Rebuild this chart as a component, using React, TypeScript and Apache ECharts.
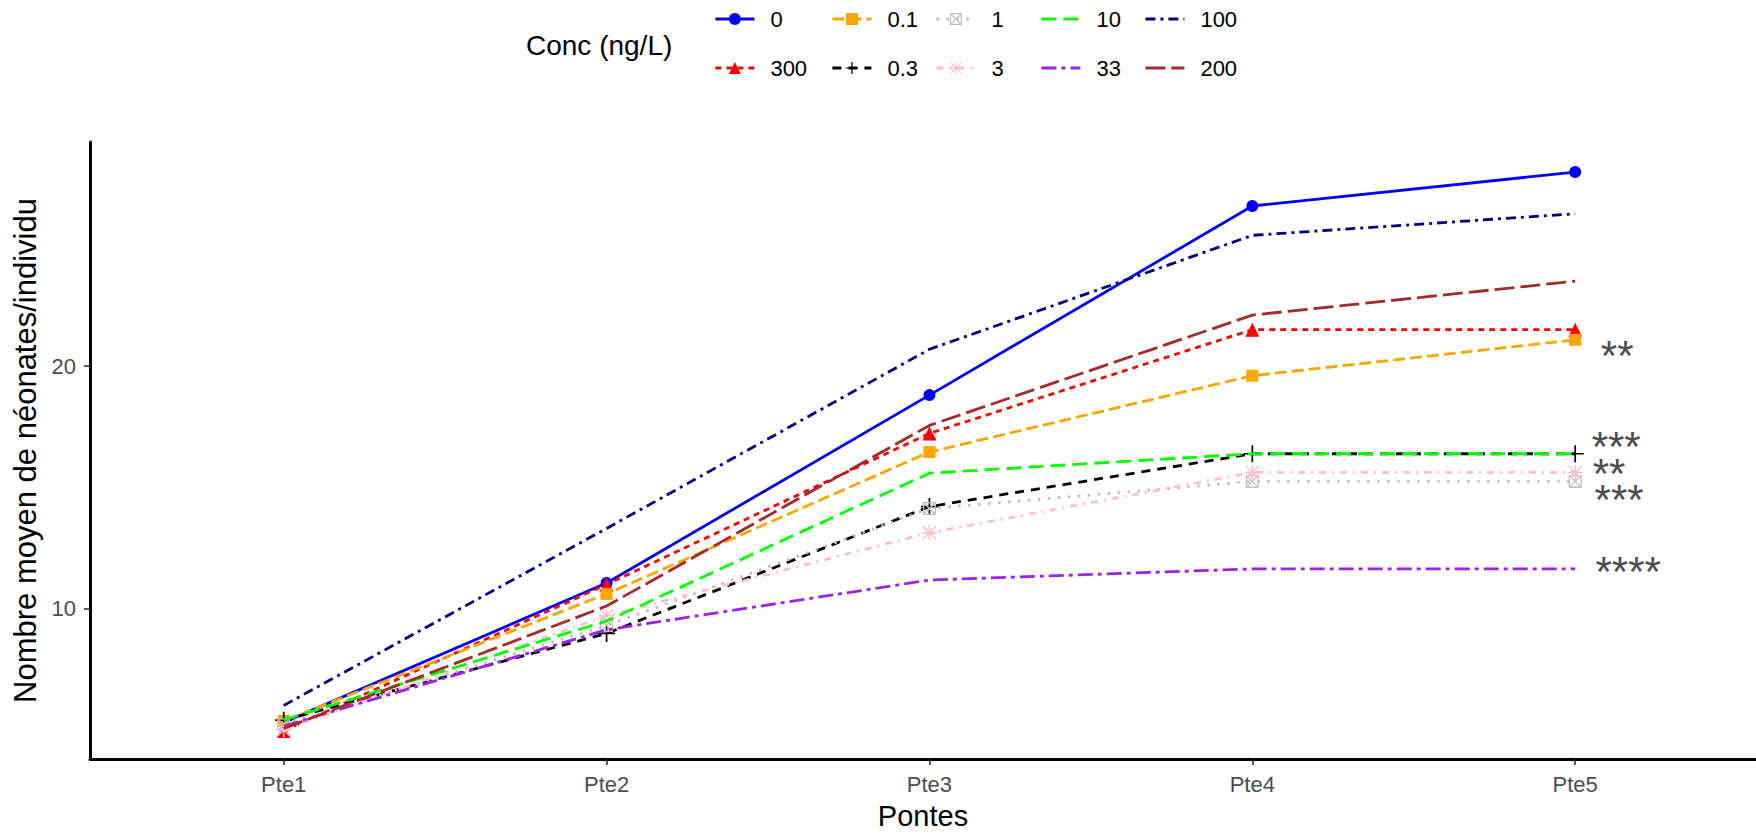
import React, { useEffect, useRef } from 'react';
import * as echarts from 'echarts';

// Brood number (x axis)
const categories = ['Pte1', 'Pte2', 'Pte3', 'Pte4', 'Pte5'];

// Concentration levels in factor order (the legend fills column by column)
const concLevels = ['0', '300', '0.1', '0.3', '1', '3', '10', '33', '100', '200'];

// Mean number of neonates per individual, one value per brood
const conc0 = [5.3, 11.05, 18.8, 26.6, 28.0];
const conc300 = [4.95, 10.99, 17.22, 21.5, 21.5];
const conc0_1 = [5.36, 10.6, 16.45, 19.6, 21.08];
const conc0_3 = [5.39, 8.97, 14.2, 16.38, 16.38];
const conc1 = [5.2, 9.3, 14.12, 15.24, 15.24];
const conc3 = [5.0, 9.7, 13.12, 15.61, 15.61];
const conc10 = [5.4, 9.48, 15.58, 16.38, 16.38];
const conc33 = [5.15, 9.12, 11.17, 11.63, 11.63];
const conc100 = [6.0, 13.3, 20.69, 25.39, 26.28];
const conc200 = [5.05, 10.1, 17.55, 22.1, 23.5];

const yTicks = [10, 20];

// Significance marks placed after the last brood
const starLabels = ['**', '***', '**', '***', '****'];
const starX = [4.13, 4.127, 4.105, 4.136, 4.164];
const starY = [20.62, 16.87, 15.79, 14.72, 11.75];

const valuesByLevel: Record<string, number[]> = {
  '0': conc0,
  '300': conc300,
  '0.1': conc0_1,
  '0.3': conc0_3,
  '1': conc1,
  '3': conc3,
  '10': conc10,
  '33': conc33,
  '100': conc100,
  '200': conc200,
};

const FONT = '"Liberation Sans", Arial, sans-serif';

const PLUS = 'path://M9,0h2v9h9v2h-9v9h-2v-9h-9v-2h9z';
const ASTERISK =
  'path://M9,0h2v9h9v2h-9v9h-2v-9h-9v-2h9z M0.7,2.1L2.1,0.7L19.3,17.9L17.9,19.3z M17.9,0.7L19.3,2.1L2.1,19.3L0.7,17.9z';
const BOXED_X =
  'path://M0,0H20V20H0z M2,2V18H18V2z M2,3.4L3.4,2L18,16.6L16.6,18z M16.6,2L18,3.4L3.4,18L2,16.6z';

type LevelStyle = { color: string; dash: any; symbol: string; size: number };

const levelStyles: Record<string, LevelStyle> = {
  '0': { color: '#0000FF', dash: 'solid', symbol: 'circle', size: 12 },
  '300': { color: '#FF0000', dash: [6, 5], symbol: 'triangle', size: 14 },
  '0.1': { color: '#FFA500', dash: [12, 5], symbol: 'rect', size: 12 },
  '0.3': { color: '#000000', dash: [9, 7], symbol: PLUS, size: 17 },
  '1': { color: '#BEBEBE', dash: [2.5, 7.5], symbol: BOXED_X, size: 13 },
  '3': { color: '#FFC0CB', dash: [7, 6, 2, 6], symbol: ASTERISK, size: 15 },
  '10': { color: '#00FF00', dash: [15, 7], symbol: 'none', size: 0 },
  '33': { color: '#A020F0', dash: [15, 5, 4, 5], symbol: 'none', size: 0 },
  '100': { color: '#000080', dash: [10, 5, 3, 5], symbol: 'none', size: 0 },
  '200': { color: '#A52A2A', dash: [20, 6], symbol: 'none', size: 0 },
};

// Legend layout: two rows, five columns
const legendKeyLeft = [714, 831, 935, 1040, 1144];
const legendRowCenter = [19, 68];

function buildOption() {
  const lineSeries = concLevels.map((level, k) => {
    const st = levelStyles[level];
    return {
      type: 'line',
      name: level,
      data: valuesByLevel[level].map((v, i) => [i, v]),
      symbol: st.symbol,
      symbolSize: st.size,
      showSymbol: st.symbol !== 'none',
      symbolKeepAspect: true,
      lineStyle: { color: st.color, width: 2.8, type: st.dash, cap: 'butt' },
      itemStyle: { color: st.color },
      emphasis: { disabled: true },
      silent: true,
      z: 2 + k * 0.01,
    };
  });

  const starSeries = {
    type: 'scatter',
    name: 'signif',
    data: starX.map((x, i) => [x, starY[i]]),
    symbolSize: 1,
    itemStyle: { color: 'rgba(0,0,0,0)' },
    silent: true,
    label: {
      show: true,
      position: 'inside',
      formatter: (p: any) => starLabels[p.dataIndex],
      fontSize: 42,
      lineHeight: 22,
      fontFamily: FONT,
      color: '#4D4D4D',
      opacity: 1,
      offset: [0, 5],
    },
    z: 5,
  };

  const legends = concLevels.map((level, k) => {
    const col = Math.floor(k / 2);
    const row = k % 2;
    const st = levelStyles[level];
    const item: any = { name: level };
    if (st.symbol === 'none') item.itemStyle = { opacity: 0 };
    return {
      data: [item],
      left: legendKeyLeft[col],
      top: legendRowCenter[row] - 12,
      orient: 'horizontal',
      padding: 0,
      itemWidth: 39,
      itemHeight: 15,
      selectedMode: false,
      lineStyle: { width: 2.8 },
      textStyle: {
        fontSize: 22,
        fontFamily: FONT,
        color: '#000',
        lineHeight: 24,
        padding: [0, 0, 0, 11],
      },
    };
  });

  const xTickValues = categories.map((_, i) => i);

  return {
    animation: false,
    backgroundColor: '#ffffff',
    textStyle: { fontFamily: FONT },
    title: {
      text: 'Conc (ng/L)',
      left: 526,
      top: 28,
      padding: 0,
      textStyle: {
        fontSize: 28,
        fontWeight: 'normal',
        color: '#000',
        fontFamily: FONT,
        lineHeight: 34,
      },
    },
    legend: legends,
    grid: { left: 90, right: 0, top: 142, bottom: 77, containLabel: false },
    xAxis: {
      type: 'value',
      min: -0.6,
      max: 4.56,
      axisLine: { show: true, onZero: false, lineStyle: { color: '#000', width: 3 } },
      axisTick: {
        show: true,
        customValues: xTickValues,
        length: 6,
        lineStyle: { color: '#333333', width: 1.6 },
      },
      axisLabel: {
        customValues: xTickValues,
        formatter: (v: number) => categories[Math.round(v)],
        fontSize: 22,
        fontFamily: FONT,
        color: '#4D4D4D',
        margin: 14,
      },
      splitLine: { show: false },
      name: 'Pontes',
      nameLocation: 'middle',
      nameGap: 42,
      nameTextStyle: { fontSize: 29, color: '#000', fontFamily: FONT },
    },
    yAxis: {
      type: 'value',
      min: 3.79,
      max: 29.24,
      axisLine: { show: true, onZero: false, lineStyle: { color: '#000', width: 3 } },
      axisTick: {
        show: true,
        customValues: yTicks,
        length: 6,
        lineStyle: { color: '#333333', width: 1.6 },
      },
      axisLabel: {
        customValues: yTicks,
        fontSize: 22,
        fontFamily: FONT,
        color: '#4D4D4D',
        margin: 14,
      },
      splitLine: { show: false },
      name: 'Nombre moyen de néonates/individu',
      nameLocation: 'middle',
      nameGap: 40,
      nameRotate: 90,
      nameTextStyle: { fontSize: 31, color: '#000', fontFamily: FONT },
    },
    series: [...lineSeries, starSeries],
  };
}

export default function App() {
  const ref = useRef<HTMLDivElement>(null);
  useEffect(() => {
    if (!ref.current) return;
    const chart = echarts.init(ref.current, undefined, { renderer: 'svg' });
    chart.setOption(buildOption() as any);
    return () => chart.dispose();
  }, []);
  return (
    <div
      ref={ref}
      style={{ position: 'fixed', left: 0, top: 0, width: 1756, height: 836, background: '#fff' }}
    />
  );
}
